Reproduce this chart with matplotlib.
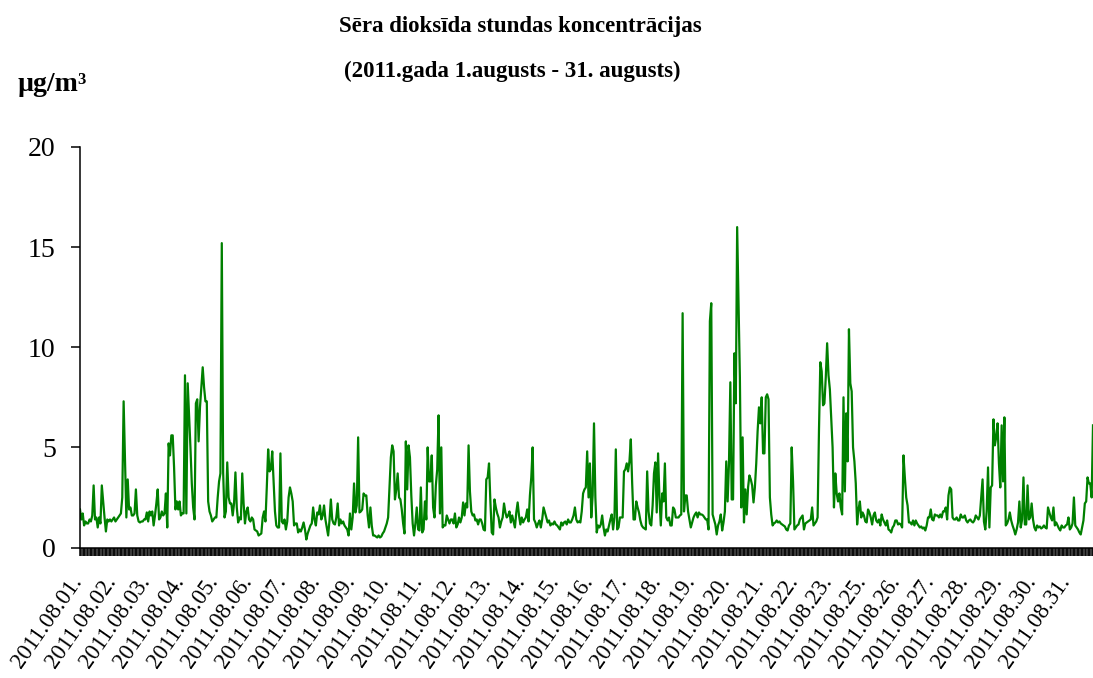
import numpy as np
import matplotlib.pyplot as plt
from matplotlib.transforms import ScaledTranslation

plt.rcParams['font.family'] = ['Liberation Serif', 'DejaVu Serif']

# hourly SO2 concentrations, ug/m3, one list per day (00..23 h)
d01 = [1.9, 1.4, 1.7, 1.1, 1.3, 1.2, 1.2, 1.4, 1.3, 1.6, 3.1, 1.4, 1.5, 1.0, 1.5, 1.2, 3.1, 2.3, 1.5, 0.8, 1.4, 1.3, 1.4, 1.3]
d02 = [1.4, 1.5, 1.3, 1.4, 1.5, 1.6, 1.7, 2.5, 7.3, 4.5, 1.5, 3.4, 1.9, 2.0, 1.6, 1.6, 1.7, 2.9, 1.6, 1.3, 1.25, 1.3, 1.3, 1.4]
d03 = [1.4, 1.75, 1.3, 1.8, 1.6, 1.8, 1.1, 1.6, 2.2, 2.9, 1.4, 1.5, 1.8, 1.6, 1.7, 2.7, 1.0, 5.2, 4.6, 5.6, 5.6, 4.0, 1.9, 2.3]
d04 = [1.9, 2.3, 1.6, 1.7, 1.7, 8.6, 1.7, 8.2, 6.6, 5.0, 3.2, 2.0, 1.4, 7.2, 7.4, 5.3, 7.0, 8.0, 9.0, 8.0, 7.3, 7.3, 2.3, 1.8]
d05 = [1.6, 1.3, 1.4, 1.5, 1.5, 2.5, 3.3, 3.7, 15.2, 3.75, 1.5, 1.8, 4.25, 2.5, 2.2, 2.2, 1.6, 2.2, 3.75, 2.0, 1.25, 1.5, 1.4, 3.7]
d06 = [2.2, 1.2, 1.8, 2.0, 1.4, 1.3, 1.5, 1.4, 0.9, 0.85, 0.8, 0.6, 0.65, 0.7, 1.5, 1.8, 1.3, 3.0, 4.9, 3.8, 3.9, 4.8, 3.3, 1.8]
d07 = [1.1, 1.0, 1.0, 4.7, 1.3, 1.2, 1.4, 0.9, 1.3, 2.5, 3.0, 2.7, 2.3, 1.1, 1.2, 1.2, 0.75, 0.9, 0.8, 1.0, 1.25, 0.9, 0.4, 0.7]
d08 = [0.9, 1.1, 1.2, 2.0, 1.4, 1.1, 1.75, 1.65, 2.1, 1.4, 1.6, 2.1, 1.4, 1.0, 0.6, 1.35, 2.4, 1.4, 1.2, 1.15, 1.5, 2.2, 1.1, 1.4]
d09 = [1.2, 1.3, 1.1, 1.0, 0.9, 0.6, 1.7, 0.9, 1.5, 3.2, 1.75, 2.1, 5.5, 1.75, 1.8, 1.9, 2.7, 2.6, 2.6, 1.6, 1.0, 2.0, 1.1, 0.6]
d10 = [0.6, 0.55, 0.5, 0.6, 0.5, 0.55, 0.7, 0.8, 1.0, 1.2, 1.5, 3.0, 4.5, 5.1, 4.8, 2.4, 2.9, 3.7, 2.5, 2.4, 1.9, 1.2, 0.7, 5.3]
d11 = [2.9, 5.1, 4.5, 2.6, 1.2, 0.6, 1.2, 2.0, 0.9, 0.85, 3.0, 0.75, 0.9, 2.3, 1.4, 5.0, 3.3, 3.3, 4.6, 2.0, 1.5, 3.1, 3.9, 6.6]
d12 = [1.7, 5.0, 1.0, 1.1, 1.1, 1.6, 1.4, 1.2, 1.4, 1.4, 1.2, 1.7, 1.0, 1.15, 1.5, 1.25, 1.5, 2.25, 1.6, 2.2, 2.0, 5.1, 2.8, 1.8]
d13 = [1.6, 1.65, 1.35, 1.4, 1.15, 1.4, 1.4, 1.2, 0.9, 0.85, 3.4, 3.5, 4.2, 2.3, 0.75, 0.65, 2.4, 2.0, 1.7, 1.5, 1.0, 1.3, 1.5, 2.2]
d14 = [1.75, 1.5, 1.6, 1.8, 1.25, 1.6, 1.3, 1.0, 1.75, 2.25, 1.6, 1.15, 1.5, 1.25, 1.4, 1.5, 1.9, 1.3, 2.6, 3.5, 5.0, 1.4, 1.25, 1.0]
d15 = [1.2, 1.35, 1.0, 1.4, 2.0, 1.75, 1.5, 1.25, 1.35, 1.1, 1.2, 1.15, 1.3, 1.15, 1.1, 1.0, 0.9, 1.25, 1.1, 1.25, 1.3, 1.15, 1.4, 1.25]
d16 = [1.25, 1.4, 1.6, 2.0, 1.4, 1.25, 1.3, 1.25, 1.8, 2.7, 2.9, 3.0, 4.8, 2.5, 4.2, 1.5, 2.6, 6.2, 2.5, 0.75, 1.1, 1.0, 1.15, 1.6]
d17 = [1.0, 0.6, 0.9, 0.8, 1.1, 1.4, 1.65, 0.9, 1.5, 4.9, 0.9, 1.0, 1.5, 1.5, 1.5, 3.8, 3.9, 4.2, 3.8, 4.3, 5.4, 3.2, 1.4, 1.4]
d18 = [2.3, 2.0, 1.75, 1.35, 1.1, 1.0, 0.95, 0.9, 3.8, 1.8, 1.2, 1.1, 2.1, 3.7, 4.25, 1.75, 4.7, 2.5, 1.1, 2.7, 2.3, 4.2, 1.5, 1.35]
d19 = [1.5, 1.1, 1.1, 2.0, 1.9, 1.5, 1.5, 1.5, 1.6, 1.65, 11.7, 1.8, 2.6, 2.6, 1.8, 1.4, 1.0, 1.25, 1.5, 1.65, 1.75, 1.5, 1.75, 1.65]
d20 = [1.65, 1.6, 1.5, 1.4, 1.4, 0.9, 11.3, 12.2, 1.65, 1.4, 1.15, 0.65, 1.1, 1.3, 1.65, 0.85, 1.25, 1.8, 4.3, 2.3, 4.2, 8.25, 2.4, 2.4]
d21 = [9.7, 7.2, 16.0, 12.1, 8.5, 2.0, 5.5, 1.25, 2.9, 1.65, 3.0, 3.6, 3.4, 3.1, 2.25, 3.0, 4.2, 5.8, 7.0, 6.2, 7.5, 4.7, 4.7, 7.5]
d22 = [7.65, 7.4, 2.5, 1.65, 1.1, 1.2, 1.25, 1.35, 1.25, 1.3, 1.2, 1.15, 1.1, 1.05, 0.9, 0.85, 1.1, 1.2, 5.0, 3.3, 0.9, 1.0, 1.1, 1.15]
d23 = [1.4, 1.5, 1.6, 0.9, 1.2, 1.25, 1.3, 1.35, 1.4, 2.0, 1.1, 1.2, 1.3, 1.5, 5.8, 9.25, 8.8, 7.1, 7.2, 8.5, 10.2, 8.6, 7.9, 6.5]
d24 = [5.0, 2.0, 3.7, 2.7, 2.3, 2.7, 2.0, 1.65, 7.5, 2.8, 6.7, 4.3, 10.9, 8.2, 7.8, 5.0, 4.3, 3.2, 1.15, 1.9, 2.3, 1.5, 1.75, 1.6]
d25 = [1.3, 1.25, 1.9, 1.75, 1.5, 1.15, 1.6, 1.75, 1.35, 1.25, 1.4, 1.1, 1.65, 1.4, 1.25, 1.1, 1.35, 0.9, 0.85, 0.75, 1.0, 1.1, 1.35, 1.35]
d26 = [1.15, 1.2, 1.15, 1.0, 4.6, 3.5, 2.5, 2.1, 1.25, 1.25, 1.15, 1.35, 1.1, 1.35, 1.2, 1.1, 1.0, 1.05, 0.95, 1.0, 0.85, 1.1, 1.5, 1.5]
d27 = [1.9, 1.4, 1.35, 1.65, 1.6, 1.6, 1.5, 1.65, 1.5, 1.8, 1.8, 2.0, 1.4, 2.6, 3.0, 2.9, 1.5, 1.4, 1.4, 1.5, 1.35, 1.35, 1.65, 1.5]
d28 = [1.5, 1.6, 1.35, 1.25, 1.35, 1.4, 1.3, 1.25, 1.35, 1.6, 1.5, 1.4, 1.6, 2.5, 3.4, 1.3, 0.9, 1.8, 4.0, 1.0, 3.0, 3.1, 6.4, 5.1]
d29 = [5.5, 6.2, 4.2, 3.0, 6.1, 3.3, 6.5, 1.1, 1.2, 1.4, 1.75, 1.35, 1.1, 0.9, 0.65, 0.9, 1.25, 2.3, 1.0, 1.4, 3.5, 1.15, 1.15, 3.1]
d30 = [1.4, 1.5, 2.2, 1.4, 1.0, 0.85, 1.1, 1.0, 1.05, 0.95, 1.0, 1.1, 1.0, 0.95, 2.0, 1.75, 1.5, 1.35, 2.0, 1.1, 1.25, 1.1, 0.95, 0.85]
d31 = [1.1, 1.0, 1.0, 1.1, 1.15, 1.5, 0.9, 1.0, 1.2, 2.5, 1.1, 1.0, 0.9, 0.75, 0.65, 1.0, 1.35, 2.2, 2.3, 3.5, 3.2, 3.2, 2.5, 6.1]

days = [d01, d02, d03, d04, d05, d06, d07, d08, d09, d10, d11, d12, d13, d14, d15, d16,
        d17, d18, d19, d20, d21, d22, d23, d24, d25, d26, d27, d28, d29, d30, d31]
values = np.concatenate(days)
hours = np.arange(len(values))

# category labels as shown on the axis (every 25th row)
label_days = [1, 2, 3, 4, 5, 6, 7, 8, 9, 10, 11, 12, 13, 14, 15, 16, 17, 18, 19, 20,
              21, 22, 23, 25, 26, 27, 28, 29, 30, 31]
label_text = ['2011.08.%02d.' % d for d in label_days]
label_pos = [25 * k + 1 for k in range(len(label_days))]

fig = plt.figure(figsize=(10.93, 6.78), dpi=100)
ax = fig.add_axes([80 / 1093, (678 - 547.5) / 678, 1013 / 1093, 400.5 / 678])

ax.plot(hours, values, color='#008000', lw=1.6)

ax.set_xlim(0, len(values) - 1)
ax.set_ylim(0, 20)
ax.set_yticks([0, 5, 10, 15, 20])
ax.tick_params(axis='y', labelsize=20, length=6.5, width=1.1, pad=11)

ax.set_xticks(label_pos)
ax.set_xticklabels(label_text, rotation=55, ha='right', rotation_mode='anchor', fontsize=16.5)
ax.set_xticks(hours, minor=True)
ax.tick_params(axis='x', which='both', length=5.5, width=1.1, pad=12)
shift = ScaledTranslation(-12 / 100, 0, fig.dpi_scale_trans)
for lab in ax.get_xticklabels():
    lab.set_transform(lab.get_transform() + shift)

ax.spines['top'].set_visible(False)
ax.spines['right'].set_visible(False)
ax.spines['left'].set_linewidth(1.1)
ax.spines['bottom'].set_linewidth(1.1)

fig.text(520 / 1093, 1 - 32 / 678, 'Sēra dioksīda stundas koncentrācijas',
         ha='center', va='baseline', fontsize=16.5, fontweight='bold')
fig.text(512 / 1093, 1 - 77 / 678, '(2011.gada 1.augusts - 31. augusts)',
         ha='center', va='baseline', fontsize=16.5, fontweight='bold')
fig.text(18 / 1093, 1 - 91 / 678, 'µg/m', ha='left', va='baseline',
         fontsize=20, fontweight='bold')
fig.text(77 / 1093, 1 - 84 / 678, '3', ha='left', va='baseline',
         fontsize=12, fontweight='bold')

fig.savefig('out.png', dpi=100)
